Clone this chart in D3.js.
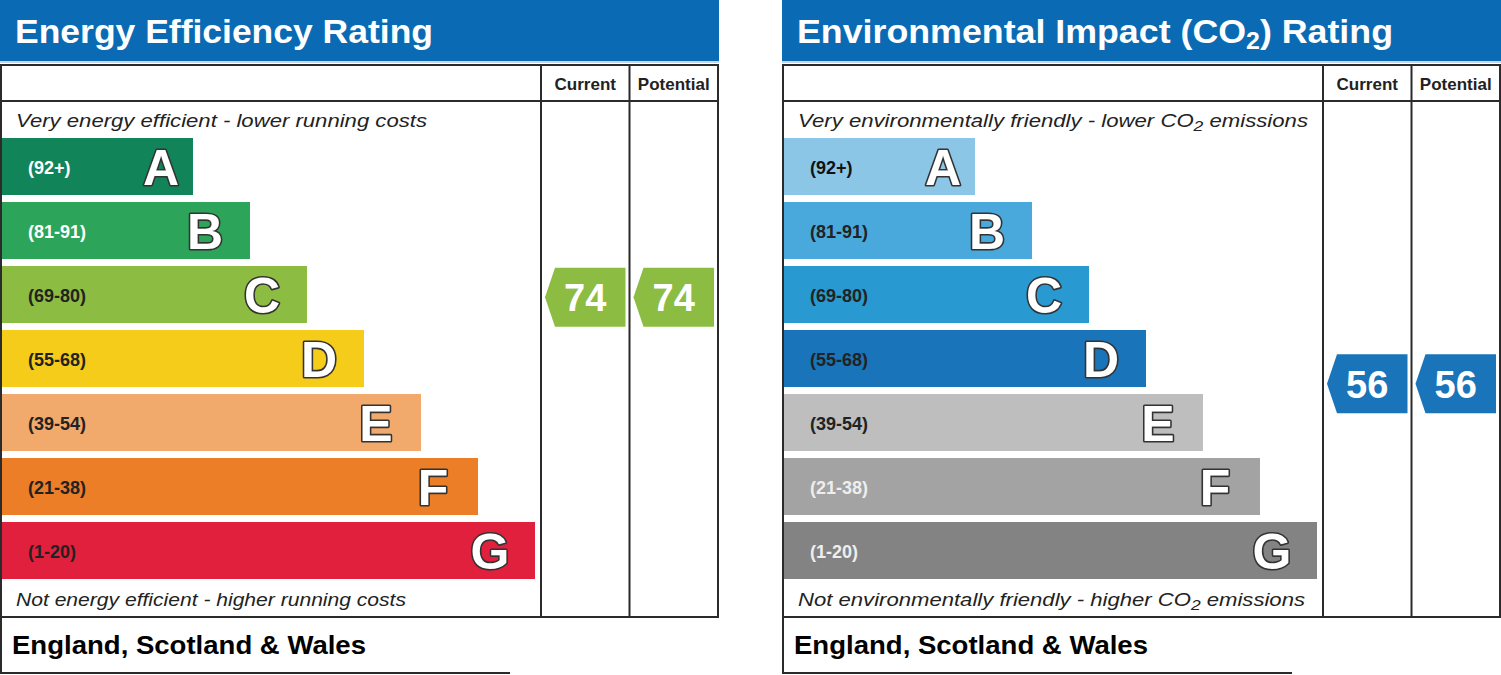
<!DOCTYPE html>
<html>
<head>
<meta charset="utf-8">
<script src="https://cdn.jsdelivr.net/npm/d3@7"></script>
<style>
  html, body { margin: 0; padding: 0; background: #ffffff; }
  svg { display: block; }
</style>
</head>
<body>
<svg id="chart" width="1501" height="675"></svg>
<script>
// ---------- data ----------
const bands = ["A", "B", "C", "D", "E", "F", "G"];
const bandRanges = ["(92+)", "(81-91)", "(69-80)", "(55-68)", "(39-54)", "(21-38)", "(1-20)"];
const bandTop = [100, 91, 80, 68, 54, 38, 20];
const bandBottom = [92, 81, 69, 55, 39, 21, 1];
const eeColors = ["#12845a", "#2ca55a", "#8dbc42", "#f5cc1a", "#f2a96c", "#eb7e27", "#e1203e"];
const co2Colors = ["#8cc6e7", "#4aa9dc", "#2899d1", "#1a74ba", "#bebebe", "#a3a3a3", "#838383"];
const eeLabelColors = ["#ffffff", "#ffffff", "#222222", "#222222", "#222222", "#222222", "#222222"];
const co2LabelColors = ["#111111", "#222222", "#222222", "#222222", "#222222", "#eeeeee", "#eeeeee"];
const columnLabels = ["Current", "Potential"];
const eeRatings = [74, 74];     // current, potential
const co2Ratings = [56, 56];    // current, potential
const footerText = "England, Scotland & Wales";

// ---------- layout ----------
const svg = d3.select("#chart");
const ink = "#2b2b2b";
const headerBlue = "#0a6bb4";

const yBand = d3.scaleBand().domain(bands).range([138, 579]).paddingInner(7 / 64).paddingOuter(0);
const xEnd = d3.scaleLinear().domain([0, bands.length - 1]).range([193, 535]);
const boundVals = bandTop.map(v => v + 0.5).concat([bandBottom[bandBottom.length - 1] - 0.5]);
const boundYs = bands.map(b => yBand(b) - 3.5).concat([yBand(bands[bands.length - 1]) + yBand.bandwidth() + 3.5]);
const yValue = d3.scaleLinear().domain(boundVals).range(boundYs);
const xCol = d3.scaleBand().domain(columnLabels).range([541, 718]);

function bandIndex(v) {
  return bands.findIndex((b, i) => v >= bandBottom[i] && v <= bandTop[i]);
}

function drawPanel(dx, cfg) {
  const g = svg.append("g").attr("transform", `translate(${dx},0)`);

  // header
  g.append("rect").attr("x", 0).attr("y", 0).attr("width", 719).attr("height", 61).attr("fill", headerBlue);
  g.append("rect").attr("x", 0).attr("y", 61).attr("width", 719).attr("height", 2).attr("fill", "#c9d6e2");
  const t = g.append("text").attr("x", 15).attr("y", 43)
    .attr("fill", "#ffffff").attr("font-family", "Liberation Sans, Arial, sans-serif")
    .attr("font-weight", "bold").attr("font-size", 33)
    .attr("textLength", cfg.titleWidth).attr("lengthAdjust", "spacingAndGlyphs");
  cfg.title(t);

  // box
  g.append("rect").attr("x", 1).attr("y", 65).attr("width", 717).attr("height", 552)
    .attr("fill", "#ffffff").attr("stroke", ink).attr("stroke-width", 2);
  g.append("line").attr("x1", 1).attr("x2", 718).attr("y1", 101).attr("y2", 101).attr("stroke", ink).attr("stroke-width", 2);
  columnLabels.forEach(c => {
    g.append("line").attr("x1", xCol(c)).attr("x2", xCol(c)).attr("y1", 65).attr("y2", 617)
      .attr("stroke", ink).attr("stroke-width", 2);
    g.append("text").attr("x", xCol(c) + xCol.bandwidth() / 2).attr("y", 90)
      .attr("text-anchor", "middle").attr("fill", "#222")
      .attr("font-family", "Liberation Sans, Arial, sans-serif").attr("font-weight", "bold")
      .attr("font-size", 17).text(c);
  });

  // top / bottom italic captions
  const top = g.append("text").attr("x", 16).attr("y", 127).attr("fill", "#222")
    .attr("font-family", "Liberation Sans, Arial, sans-serif").attr("font-style", "italic")
    .attr("font-size", 19).attr("textLength", cfg.topWidth).attr("lengthAdjust", "spacingAndGlyphs");
  cfg.topText(top);
  const bot = g.append("text").attr("x", 16).attr("y", 606).attr("fill", "#222")
    .attr("font-family", "Liberation Sans, Arial, sans-serif").attr("font-style", "italic")
    .attr("font-size", 19).attr("textLength", cfg.botWidth).attr("lengthAdjust", "spacingAndGlyphs");
  cfg.botText(bot);

  // bars
  const rows = g.selectAll("g.band").data(bands).enter().append("g").attr("class", "band");
  rows.append("rect")
    .attr("x", 2).attr("y", d => yBand(d))
    .attr("width", (d, i) => xEnd(i) - 2).attr("height", yBand.bandwidth())
    .attr("fill", (d, i) => cfg.colors[i]);
  rows.append("text")
    .attr("x", 28).attr("y", d => yBand(d) + yBand.bandwidth() / 2 + 7)
    .attr("fill", (d, i) => cfg.labelColors[i])
    .attr("font-family", "Liberation Sans, Arial, sans-serif").attr("font-weight", "bold")
    .attr("font-size", 18)
    .text((d, i) => bandRanges[i]);
  rows.append("text")
    .attr("x", (d, i) => xEnd(i) - 45 + (i === 0 ? 13 : 0))
    .attr("y", d => yBand(d) + yBand.bandwidth() / 2 + 18)
    .attr("text-anchor", "middle")
    .attr("fill", "#ffffff").attr("stroke", "#333").attr("stroke-width", 3.2)
    .attr("stroke-linejoin", "round")
    .attr("paint-order", "stroke")
    .attr("font-family", "Liberation Sans, Arial, sans-serif").attr("font-weight", "bold")
    .attr("font-size", 50)
    .text(d => d);

  // rating arrows
  columnLabels.forEach((c, k) => {
    const v = cfg.ratings[k];
    const yc = yValue(v);
    const x0 = xCol(c) + 4, x1 = xCol(c) + 14, x2 = xCol(c) + xCol.bandwidth() - 4;
    const h = 29.5;
    const col = cfg.colors[bandIndex(v)];
    g.append("path")
      .attr("d", d3.line()([[x0, yc], [x1, yc - h], [x2, yc - h], [x2, yc + h], [x1, yc + h]]) + "Z")
      .attr("fill", col);
    g.append("text").attr("x", (x0 + x2) / 2).attr("y", yc + 14)
      .attr("text-anchor", "middle").attr("fill", "#ffffff")
      .attr("font-family", "Liberation Sans, Arial, sans-serif").attr("font-weight", "bold")
      .attr("font-size", 38).text(v);
  });

  // footer
  g.append("rect").attr("x", 0).attr("y", 618).attr("width", 510).attr("height", 55).attr("fill", "#ffffff");
  g.append("line").attr("x1", 1).attr("x2", 1).attr("y1", 617).attr("y2", 674).attr("stroke", ink).attr("stroke-width", 2);
  g.append("line").attr("x1", 0).attr("x2", 510).attr("y1", 673).attr("y2", 673).attr("stroke", ink).attr("stroke-width", 2);
  g.append("text").attr("x", 12).attr("y", 654).attr("fill", "#000")
    .attr("font-family", "Liberation Sans, Arial, sans-serif").attr("font-weight", "bold")
    .attr("font-size", 26).attr("textLength", 354).attr("lengthAdjust", "spacingAndGlyphs")
    .text(footerText);
}

function withCO2(sel, before, after, subSize, shift) {
  sel.append("tspan").text(before);
  sel.append("tspan").attr("font-size", subSize).attr("dy", shift).text("2");
  sel.append("tspan").attr("dy", -shift).text(after);
}

drawPanel(0, {
  title: s => s.text("Energy Efficiency Rating"),
  titleWidth: 418,
  topText: s => s.text("Very energy efficient - lower running costs"),
  topWidth: 411,
  botText: s => s.text("Not energy efficient - higher running costs"),
  botWidth: 390,
  colors: eeColors,
  labelColors: eeLabelColors,
  ratings: eeRatings
});

drawPanel(782, {
  title: s => withCO2(s, "Environmental Impact (CO", ") Rating", 23, 6),
  titleWidth: 596,
  topText: s => withCO2(s, "Very environmentally friendly - lower CO", " emissions", 15, 4),
  topWidth: 510,
  botText: s => withCO2(s, "Not environmentally friendly - higher CO", " emissions", 15, 4),
  botWidth: 507,
  colors: co2Colors,
  labelColors: co2LabelColors,
  ratings: co2Ratings
});
</script>
</body>
</html>
